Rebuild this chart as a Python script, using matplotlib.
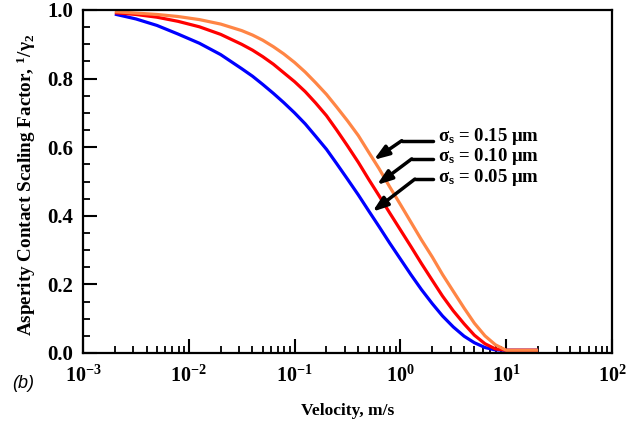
import numpy as np
import matplotlib
matplotlib.use("Agg")
import matplotlib.pyplot as plt
from matplotlib.ticker import FuncFormatter, FormatStrFormatter, MultipleLocator, LogLocator, NullFormatter

plt.rcParams['font.family'] = ['Liberation Serif', 'DejaVu Serif']
plt.rcParams['font.weight'] = 'bold'
plt.rcParams['mathtext.fontset'] = 'custom'
plt.rcParams['mathtext.rm'] = 'Liberation Serif:bold'
plt.rcParams['mathtext.it'] = 'Liberation Serif:bold'
plt.rcParams['mathtext.bf'] = 'Liberation Serif:bold'

# ---- data ----
velocity = [0.002, 0.00316, 0.005, 0.0079, 0.0126, 0.02, 0.0316, 0.04, 0.05, 0.063, 0.079,
            0.1, 0.126, 0.158, 0.2, 0.25, 0.316, 0.4, 0.5, 0.63, 0.79, 1.0, 1.26, 1.58,
            2.0, 2.5, 3.16, 4.0, 5.0, 6.3, 7.9, 10.0, 20.0]
scale_005 = [0.988, 0.974, 0.955, 0.930, 0.903, 0.870, 0.829, 0.807, 0.783, 0.757, 0.730,
             0.700, 0.668, 0.632, 0.594, 0.552, 0.507, 0.461, 0.415, 0.368, 0.321, 0.274,
             0.228, 0.185, 0.144, 0.108, 0.076, 0.049, 0.030, 0.016, 0.009, 0.008, 0.008]
scale_010 = [0.992, 0.987, 0.979, 0.967, 0.951, 0.929, 0.900, 0.883, 0.864, 0.842, 0.817,
             0.791, 0.762, 0.729, 0.692, 0.650, 0.604, 0.556, 0.507, 0.458, 0.409, 0.359,
             0.310, 0.261, 0.212, 0.166, 0.123, 0.085, 0.052, 0.027, 0.012, 0.008, 0.008]
scale_015 = [0.995, 0.991, 0.987, 0.981, 0.972, 0.959, 0.940, 0.927, 0.912, 0.893, 0.872,
             0.847, 0.819, 0.788, 0.754, 0.717, 0.677, 0.634, 0.586, 0.537, 0.485, 0.433,
             0.381, 0.330, 0.280, 0.229, 0.180, 0.131, 0.087, 0.050, 0.024, 0.008, 0.008]
series_labels = [r'$\sigma_\mathrm{s}$ = 0.15 μm', r'$\sigma_\mathrm{s}$ = 0.10 μm', r'$\sigma_\mathrm{s}$ = 0.05 μm']
colors = {'005': '#0000FF', '010': '#FF0000', '015': '#FF8545'}

fig = plt.figure(figsize=(6.33, 4.21), dpi=100)
ax = fig.add_axes([83/633, 68/421, 529/633, 343/421])

ax.plot(velocity, scale_005, color=colors['005'], lw=2.3, solid_capstyle='butt')
ax.plot(velocity, scale_010, color=colors['010'], lw=2.3, solid_capstyle='butt')
ax.plot(velocity, scale_015, color=colors['015'], lw=2.3, solid_capstyle='butt')

ax.set_xscale('log')
ax.set_xlim(1e-3, 1e2)
ax.set_ylim(0, 1.0)

for s in ax.spines.values():
    s.set_linewidth(1.6)

ax.xaxis.set_major_locator(LogLocator(base=10, numticks=10))
ax.xaxis.set_minor_locator(LogLocator(base=10, subs=np.arange(2, 10), numticks=20))
ax.xaxis.set_minor_formatter(NullFormatter())
ax.xaxis.set_major_formatter(FuncFormatter(lambda v, p: r'$\mathbf{10^{%d}}$' % int(round(np.log10(v)))))
ax.yaxis.set_major_locator(MultipleLocator(0.2))
ax.yaxis.set_minor_locator(MultipleLocator(0.05))
ax.yaxis.set_major_formatter(FormatStrFormatter('%.1f'))

ax.tick_params(which='both', direction='in', top=False, right=False)
ax.tick_params(which='major', length=10, width=1.5)
ax.tick_params(which='minor', length=5, width=1.3)
ax.tick_params(axis='x', which='major', pad=9, labelsize=14.5)
ax.tick_params(axis='y', which='major', pad=7, labelsize=15)

ax.set_xlabel('Velocity, m/s', fontsize=12.5, fontweight='bold')
ax.xaxis.set_label_coords(0.5, -0.145)
ax.set_ylabel(r'Asperity Contact Scaling Factor, $^{1}/\gamma_{2}$', fontsize=13.8, fontweight='bold')
ax.yaxis.set_label_coords(-0.086, 0.49)

# annotations: label text, elbow, arrow tip (data coords)
label_pos = [(2.26, 0.630), (2.26, 0.574), (2.26, 0.513)]
line_start = [(2.03, 0.619), (2.03, 0.566), (2.03, 0.507)]
elbows = [(1.03, 0.619), (1.28, 0.566), (1.37, 0.507)]
tips = [(0.56, 0.563), (0.60, 0.490), (0.545, 0.412)]
for lab, lp, st, el, tp in zip(series_labels, label_pos, line_start, elbows, tips):
    ax.text(lp[0], lp[1], lab, fontsize=13.5, fontweight='bold', ha='left', va='center')
    ax.plot([st[0], el[0]], [st[1], el[1]], color='k', lw=2.5, solid_capstyle='round')
    ax.annotate('', xy=tp, xytext=el,
                arrowprops=dict(arrowstyle='-|>,head_length=0.9,head_width=0.32',
                                lw=2.5, color='k', shrinkA=0, shrinkB=0))

fig.text(12/633, 1 - 383/421, '(b)', fontsize=13, fontstyle='italic', fontweight='normal',
         family='Liberation Sans', ha='left', va='center')

fig.savefig('out.png', dpi=100)
